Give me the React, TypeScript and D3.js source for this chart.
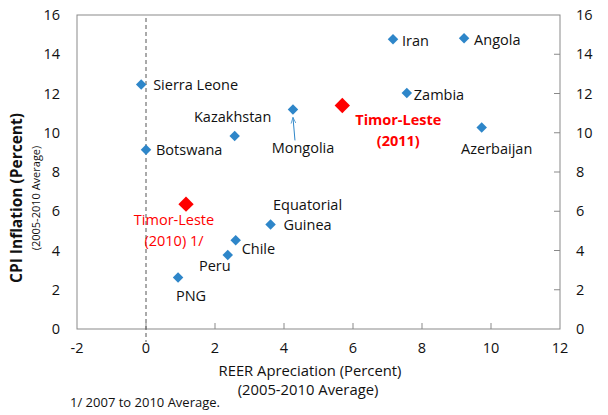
import React from "react";
import * as d3 from "d3";

const WIDTH = 608;
const HEIGHT = 415;
const Margin = { top: 15, right: 48, bottom: 86, left: 77 };
const FONT = "'Segoe UI', 'Open Sans', sans-serif";
const TEXT = "#111";

const countries = ["Sierra Leone", "Botswana", "Kazakhstan", "Mongolia", "Iran", "Angola", "Zambia", "Azerbaijan", "Equatorial Guinea", "Chile", "Peru", "PNG"];
const reer = [-0.14, 0.0, 2.57, 4.26, 7.16, 9.22, 7.56, 9.73, 3.61, 2.6, 2.37, 0.93];
const cpi = [12.46, 9.13, 9.83, 11.19, 14.76, 14.81, 12.02, 10.27, 5.32, 4.52, 3.77, 2.62];

const timorNames = ["Timor-Leste (2011)", "Timor-Leste (2010) 1/"];
const timorReer = [5.69, 1.16];
const timorCpi = [11.39, 6.36];

const xTicks = [-2, 0, 2, 4, 6, 8, 10, 12];
const yTicks = [0, 2, 4, 6, 8, 10, 12, 14, 16];

// label layout: lines, dx/dy from the marker, anchor
const labelLayout: Record<string, { lines: string[]; dx: number; dy: number; anchor: string }> = {
  "Sierra Leone": { lines: ["Sierra Leone"], dx: 12, dy: 0, anchor: "start" },
  Botswana: { lines: ["Botswana"], dx: 10, dy: 0, anchor: "start" },
  Kazakhstan: { lines: ["Kazakhstan"], dx: -2, dy: -19, anchor: "middle" },
  Mongolia: { lines: ["Mongolia"], dx: 10, dy: 39, anchor: "middle" },
  Iran: { lines: ["Iran"], dx: 9, dy: 2, anchor: "start" },
  Angola: { lines: ["Angola"], dx: 10, dy: 2, anchor: "start" },
  Zambia: { lines: ["Zambia"], dx: 7, dy: 2, anchor: "start" },
  Azerbaijan: { lines: ["Azerbaijan"], dx: 15, dy: 21, anchor: "middle" },
  "Equatorial Guinea": { lines: ["Equatorial", "Guinea"], dx: 37, dy: -20, anchor: "middle" },
  Chile: { lines: ["Chile"], dx: 6, dy: 9, anchor: "start" },
  Peru: { lines: ["Peru"], dx: -13, dy: 11, anchor: "middle" },
  PNG: { lines: ["PNG"], dx: 13, dy: 18, anchor: "middle" },
};

const App = () => {
  const x = d3.scaleLinear().domain([-2, 12]).range([Margin.left, WIDTH - Margin.right]);
  const y = d3.scaleLinear().domain([0, 16]).range([HEIGHT - Margin.bottom, Margin.top]);
  const diamond = (size: number) => d3.symbol().type(d3.symbolDiamond2).size(size)() as string;
  const x0 = x(0);
  const bottom = y(0);

  return (
    <svg width={WIDTH} height={HEIGHT} style={{ position: "absolute", left: 0, top: 0, fontFamily: FONT }}>
      <rect x={0} y={0} width={WIDTH} height={HEIGHT} fill="#fff" />
      {/* plot frame */}
      <rect x={x(-2)} y={y(16)} width={x(12) - x(-2)} height={y(0) - y(16)} fill="none" stroke="#898989" strokeWidth={1} />
      {/* x ticks, inward */}
      {xTicks.map((t) => (
        <g key={"xt" + t}>
          {t > -2 && t < 12 && <line x1={x(t)} x2={x(t)} y1={bottom} y2={bottom - 6} stroke="#898989" />}
          <text x={x(t)} y={bottom + 24} textAnchor="middle" fontSize={14.5} fill={TEXT}>{t}</text>
        </g>
      ))}
      {yTicks.map((t) => (
        <g key={"yt" + t}>
          {t > 0 && t < 16 && <line x1={x(12)} x2={x(12) - 6} y1={y(t)} y2={y(t)} stroke="#898989" />}
          <text x={60} y={y(t)} dy="0.35em" textAnchor="end" fontSize={14.5} fill={TEXT}>{t}</text>
          <text x={576} y={y(t)} dy="0.35em" textAnchor="start" fontSize={14.5} fill={TEXT}>{t}</text>
        </g>
      ))}
      {/* dashed zero line */}
      <line x1={x0} x2={x0} y1={y(16) + 3} y2={bottom + 13} stroke="#555" strokeDasharray="4,3" strokeWidth={1} />

      {/* Mongolia arrow */}
      <defs>
        <marker id="arr" viewBox="0 0 10 10" refX="10" refY="5" markerWidth="6" markerHeight="6" orient="auto">
          <path d="M0,1 L10,5 L0,9" fill="none" stroke="#2E86C9" strokeWidth={1.2} />
        </marker>
      </defs>
      <line
        x1={x(reer[3]) + 2}
        y1={y(cpi[3]) + 31}
        x2={x(reer[3])}
        y2={y(cpi[3]) + 8}
        stroke="#2E86C9"
        strokeWidth={1}
        markerEnd="url(#arr)"
      />

      {countries.map((c, i) => {
        const px = x(reer[i]);
        const py = y(cpi[i]);
        const l = labelLayout[c];
        return (
          <g key={c}>
            <path d={diamond(70)} transform={`translate(${px},${py})`} fill="#2E86C9" />
            <text x={px + l.dx} y={py + l.dy} textAnchor={l.anchor} fontSize={14.5} fill={TEXT}>
              {l.lines.map((ln, k) => (
                <tspan key={k} x={px + l.dx} dy={k === 0 ? "0.35em" : "1.4em"}>
                  {ln}
                </tspan>
              ))}
            </text>
          </g>
        );
      })}

      {/* Timor-Leste 2011 */}
      <path d={diamond(150)} transform={`translate(${x(timorReer[0])},${y(timorCpi[0])})`} fill="#FF0000" />
      <text x={x(timorReer[0]) + 56} y={y(timorCpi[0]) + 14} dy="0.35em" textAnchor="middle" fontSize={14.5} fontWeight="bold" fill="#FF0000">
        Timor-Leste
      </text>
      <text x={x(timorReer[0]) + 56} y={y(timorCpi[0]) + 35} dy="0.35em" textAnchor="middle" fontSize={14.5} fontWeight="bold" fill="#FF0000">
        (2011)
      </text>

      {/* Timor-Leste 2010 */}
      <path d={diamond(150)} transform={`translate(${x(timorReer[1])},${y(timorCpi[1])})`} fill="#FF0000" />
      <text x={x(timorReer[1]) - 12} y={y(timorCpi[1]) + 16} dy="0.35em" textAnchor="middle" fontSize={14.5} fill="#FF0000">
        Timor-Leste
      </text>
      <text x={x(timorReer[1]) - 12} y={y(timorCpi[1]) + 37} dy="0.35em" textAnchor="middle" fontSize={14.5} fill="#FF0000">
        (2010) 1/
      </text>

      {/* axis titles */}
      <text x={310} y={371} dy="0.35em" textAnchor="middle" fontSize={14.8} fill={TEXT}>REER Apreciation (Percent)</text>
      <text x={308} y={390} dy="0.35em" textAnchor="middle" fontSize={14.8} fill={TEXT}>(2005-2010 Average)</text>
      <text transform="translate(17,198) rotate(-90)" dy="0.35em" textAnchor="middle" fontSize={15.5} fontWeight="bold" fill={TEXT}>
        CPI Inflation (Percent)
      </text>
      <text transform="translate(36,198) rotate(-90)" dy="0.35em" textAnchor="middle" fontSize={11} fill={TEXT}>
        (2005-2010 Average)
      </text>
      <text x={70} y={402} dy="0.35em" fontSize={13} fill={TEXT}>1/ 2007 to 2010 Average.</text>
    </svg>
  );
};

export default App;
